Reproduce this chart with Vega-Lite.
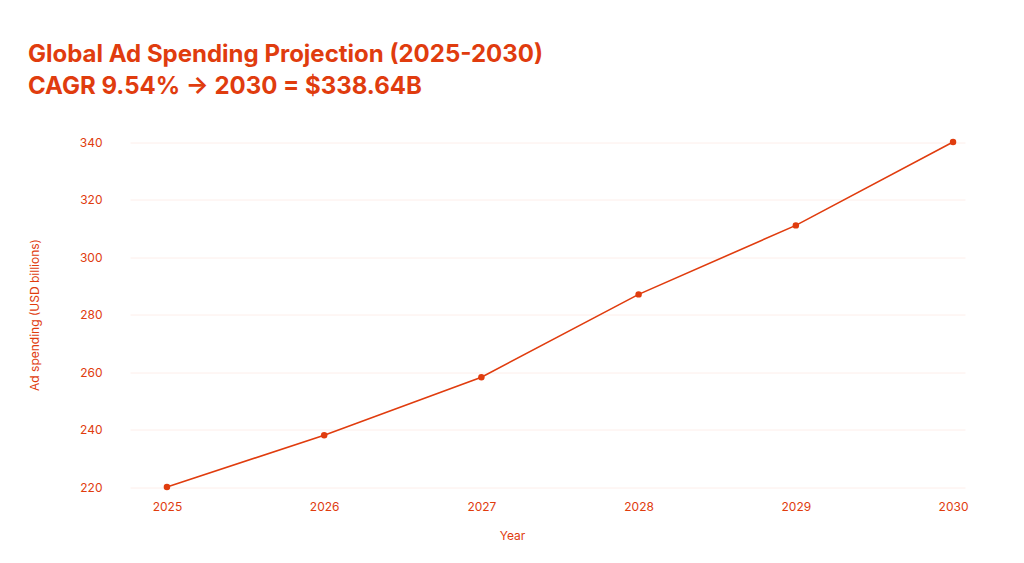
{
  "$schema": "https://vega.github.io/schema/vega-lite/v6.json",
  "width": 835,
  "height": 368,
  "autosize": {"type": "none"},
  "padding": {"left": 130, "top": 130.5, "right": 59, "bottom": 64.5},
  "background": "white",
  "title": {
    "text": ["Global Ad Spending Projection (2025-2030)", "CAGR 9.54% \u2192  2030 = $338.64B"],
    "anchor": "start",
    "frame": "group",
    "dx": -102,
    "offset": 32,
    "font": "Inter",
    "fontSize": 24,
    "fontWeight": "bold",
    "color": "#E03C0E",
    "lineHeight": 32
  },
  "data": {
    "values": [
      {"year": 2025, "spend": 220},
      {"year": 2026, "spend": 238},
      {"year": 2027, "spend": 258.2},
      {"year": 2028, "spend": 287},
      {"year": 2029, "spend": 311},
      {"year": 2030, "spend": 340}
    ]
  },
  "config": {
    "view": {"stroke": null},
    "axis": {
      "labelFont": "Inter",
      "titleFont": "Inter",
      "labelColor": "#E03C0E",
      "titleColor": "#E03C0E",
      "labelFontSize": 12,
      "titleFontSize": 12,
      "titleFontWeight": "normal",
      "domain": false,
      "ticks": false
    }
  },
  "layer": [
    {
      "mark": {"type": "line", "color": "#E03C0E", "strokeWidth": 1.6},
      "encoding": {
        "x": {
          "field": "year", "type": "quantitative",
          "scale": {"domain": [2024.765, 2030.076], "nice": false, "zero": false},
          "axis": {"values": [2025, 2026, 2027, 2028, 2029, 2030], "format": "d", "grid": false, "title": "Year", "labelPadding": 3, "titleX": 382, "titleY": 37, "titleBaseline": "middle", "titleAnchor": null}
        },
        "y": {
          "field": "spend", "type": "quantitative",
          "scale": {"domain": [216, 344], "nice": false, "zero": false},
          "axis": {"values": [220, 240, 260, 280, 300, 320, 340], "title": "Ad spending (USD billions)", "labelPadding": 28, "gridColor": "#FDEEEA", "gridWidth": 1, "titlePadding": 38}
        }
      }
    },
    {
      "mark": {"type": "point", "filled": true, "color": "#E03C0E", "size": 42, "opacity": 1},
      "encoding": {
        "x": {"field": "year", "type": "quantitative"},
        "y": {"field": "spend", "type": "quantitative"}
      }
    }
  ]
}
